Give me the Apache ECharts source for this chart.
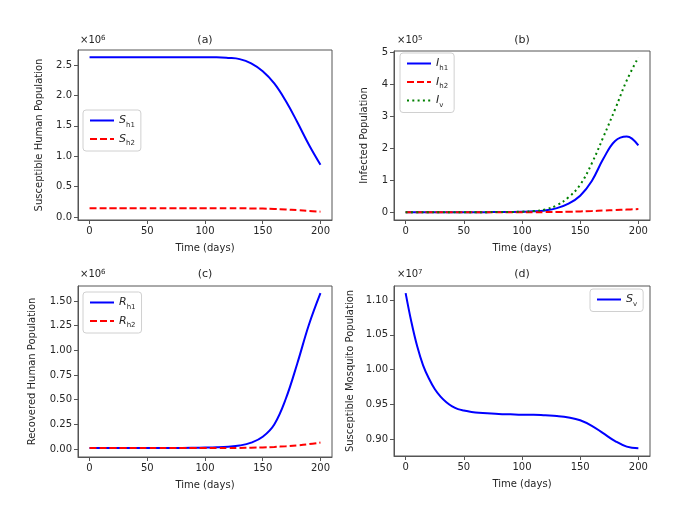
<!doctype html>
<html lang="en">
<head>
<meta charset="UTF-8">
<title>Population dynamics</title>
<script src="https://cdn.jsdelivr.net/npm/echarts@6/dist/echarts.min.js"></script>
<style>
    html, body { margin: 0; padding: 0; background: #fff; }
    #main { width: 675px; height: 510px; }
</style>
</head>
<body>
<div id="main"></div>
<script type="text/javascript">
    // time axis (days)
    var days = [0, 10, 20, 30, 40, 50, 60, 70, 80, 90, 100, 110, 120, 130, 140, 150, 160, 170, 180, 190, 200];
    var daysSv = [0, 5, 10, 15, 20, 25, 30, 35, 40, 45, 50, 60, 70, 80, 90, 100, 110, 120, 130, 140, 150, 160, 170, 180, 190, 200];

    // (a) susceptible humans, x10^6
    var sh1 = [2.63, 2.63, 2.63, 2.63, 2.63, 2.63, 2.63, 2.63, 2.63, 2.63, 2.63, 2.63, 2.62, 2.60, 2.53, 2.40, 2.20, 1.91, 1.56, 1.19, 0.86];
    var sh2 = [0.145, 0.145, 0.145, 0.145, 0.145, 0.145, 0.145, 0.145, 0.145, 0.145, 0.145, 0.145, 0.144, 0.143, 0.141, 0.138, 0.132, 0.124, 0.112, 0.100, 0.087];

    // (b) infected, x10^5
    var ih1 = [0, 0, 0, 0, 0, 0, 0, 0.005, 0.008, 0.012, 0.018, 0.03, 0.06, 0.13, 0.27, 0.52, 0.98, 1.68, 2.23, 2.37, 2.09];
    var ih2 = [0, 0, 0, 0, 0, 0, 0, 0, 0, 0, 0, 0.003, 0.006, 0.01, 0.018, 0.028, 0.04, 0.055, 0.07, 0.085, 0.10];
    var iv  = [0, 0, 0, 0, 0, 0, 0, 0.005, 0.008, 0.012, 0.02, 0.04, 0.09, 0.22, 0.47, 0.86, 1.53, 2.36, 3.22, 4.12, 4.84];

    // (c) recovered humans, x10^6
    var rh1 = [0.01, 0.01, 0.01, 0.01, 0.01, 0.011, 0.011, 0.012, 0.012, 0.013, 0.015, 0.018, 0.024, 0.036, 0.065, 0.125, 0.25, 0.51, 0.87, 1.26, 1.58];
    var rh2 = [0.01, 0.01, 0.01, 0.01, 0.01, 0.01, 0.01, 0.01, 0.01, 0.01, 0.01, 0.01, 0.011, 0.012, 0.014, 0.017, 0.022, 0.029, 0.038, 0.05, 0.066];

    // (d) susceptible mosquitoes, x10^7
    var sv = [1.110, 1.068, 1.033, 1.006, 0.987, 0.972, 0.961, 0.953, 0.947, 0.943, 0.941, 0.938, 0.937, 0.936, 0.9355, 0.935, 0.935, 0.934, 0.933, 0.931, 0.927, 0.919, 0.908, 0.897, 0.889, 0.8865];

    var xTicks = [0, 50, 100, 150, 200];
    var yTicksA = [0, 0.5, 1.0, 1.5, 2.0, 2.5];
    var yTicksB = [0, 1, 2, 3, 4, 5];
    var yTicksC = [0, 0.25, 0.5, 0.75, 1.0, 1.25, 1.5];
    var yTicksD = [0.90, 0.95, 1.00, 1.05, 1.10];

    var legendNames = {
        Sh1: '{it|S}{sub|h1}', Sh2: '{it|S}{sub|h2}',
        Ih1: '{it|I}{sub|h1}', Ih2: '{it|I}{sub|h2}', Iv: '{it|I}{sub|v}',
        Rh1: '{it|R}{sub|h1}', Rh2: '{it|R}{sub|h2}',
        Sv: '{it|S}{sub|v}'
    };

    var FONT = 'DejaVu Sans';
    var TXT = '#262626';
    var FRAME = '#555';

    function pairs(xs, ys) {
        var out = [];
        for (var i = 0; i < xs.length; i++) {
            out.push([xs[i], ys[i]]);
        }
        return out;
    }

    function xAxisFor(idx) {
        return {
            type: 'value', gridIndex: idx, min: -10, max: 210,
            name: 'Time (days)', nameLocation: 'middle', nameGap: 23,
            nameTextStyle: { fontFamily: FONT, fontSize: 10, color: TXT },
            splitLine: { show: false },
            axisLine: { onZero: false, lineStyle: { color: FRAME } },
            axisTick: { inside: false, length: 4, customValues: xTicks, lineStyle: { color: FRAME } },
            axisLabel: { customValues: xTicks, margin: 6, fontFamily: FONT, fontSize: 10, color: TXT }
        };
    }

    function yAxisFor(idx, min, max, ticks, digits, name, gap) {
        return {
            type: 'value', gridIndex: idx, min: min, max: max,
            name: name, nameLocation: 'middle', nameGap: gap,
            nameTextStyle: { fontFamily: FONT, fontSize: 10, color: TXT },
            splitLine: { show: false },
            axisLine: { show: true, onZero: false, lineStyle: { color: FRAME } },
            axisTick: { show: true, inside: false, length: 4, customValues: ticks, lineStyle: { color: FRAME } },
            axisLabel: {
                customValues: ticks, margin: 6, fontFamily: FONT, fontSize: 10, color: TXT,
                formatter: function (v) { return v.toFixed(digits); }
            }
        };
    }

    function lineSeries(name, idx, data, color, dash) {
        return {
            name: name, type: 'line', xAxisIndex: idx, yAxisIndex: idx,
            data: data, smooth: 0.4, symbol: 'none', animation: false,
            lineStyle: { color: color, width: 2, type: dash || 'solid' },
            itemStyle: { color: color }
        };
    }

    function legendFor(names, pos) {
        var l = {
            orient: 'vertical', data: names, itemWidth: 24, itemHeight: 10, itemGap: 5,
            padding: [5, 6, 4, 6], borderColor: '#d0d0d0', borderWidth: 1, borderRadius: 3,
            backgroundColor: 'rgba(255,255,255,0.8)',
            itemStyle: { opacity: 0 },
            formatter: function (n) { return legendNames[n]; },
            textStyle: {
                fontFamily: FONT, fontSize: 11, color: TXT,
                rich: {
                    it: { fontFamily: FONT, fontStyle: 'italic', fontSize: 11, color: TXT, lineHeight: 16 },
                    sub: { fontFamily: FONT, fontSize: 7, color: TXT, verticalAlign: 'bottom', lineHeight: 10 }
                }
            }
        };
        for (var k in pos) l[k] = pos[k];
        return l;
    }

    function expTitle(exp, left, top) {
        return {
            text: '×10{sup|' + exp + '}', left: left, top: top, padding: 0,
            textStyle: {
                fontFamily: FONT, fontSize: 10, fontWeight: 'normal', color: TXT,
                rich: { sup: { fontFamily: FONT, fontSize: 7, color: TXT, verticalAlign: 'top', lineHeight: 8 } }
            }
        };
    }

    function panelTitle(text, cx, top) {
        return {
            text: text, left: cx, top: top, textAlign: 'center', padding: 0,
            textStyle: { fontFamily: FONT, fontSize: 11, fontWeight: 'normal', color: TXT }
        };
    }

    var chart = echarts.init(document.getElementById('main'), null, { renderer: 'canvas' });

    var gridStyle = { show: true, borderColor: FRAME, borderWidth: 1, backgroundColor: '#fff' };
    var grids = [
        Object.assign({ left: 78, top: 50, width: 254, height: 170 }, gridStyle),
        Object.assign({ left: 394, top: 51, width: 256, height: 169 }, gridStyle),
        Object.assign({ left: 78, top: 286, width: 254, height: 171 }, gridStyle),
        Object.assign({ left: 394, top: 286, width: 256, height: 170 }, gridStyle)
    ];

    var option = {
        backgroundColor: '#fff',
        animation: false,
        title: [
            panelTitle('(a)', 205, 35), expTitle(6, 80, 35),
            panelTitle('(b)', 522, 35), expTitle(5, 397, 35),
            panelTitle('(c)', 205, 269), expTitle(6, 80, 269),
            panelTitle('(d)', 522, 269), expTitle(7, 397, 269)
        ],
        grid: grids,
        xAxis: [xAxisFor(0), xAxisFor(1), xAxisFor(2), xAxisFor(3)],
        yAxis: [
            yAxisFor(0, -0.05, 2.75, yTicksA, 1, 'Susceptible Human Population', 34),
            yAxisFor(1, -0.24, 5.04, yTicksB, 0, 'Infected Population', 25),
            yAxisFor(2, -0.08, 1.652, yTicksC, 2, 'Recovered Human Population', 41),
            yAxisFor(3, 0.8755, 1.1202, yTicksD, 2, 'Susceptible Mosquito Population', 39)
        ],
        legend: [
            legendFor(['Sh1', 'Sh2'], { left: 83, top: 110 }),
            legendFor(['Ih1', 'Ih2', 'Iv'], { left: 400, top: 53 }),
            legendFor(['Rh1', 'Rh2'], { left: 83, top: 292 }),
            legendFor(['Sv'], { left: 590, top: 289 })
        ],
        series: [
            lineSeries('Sh1', 0, pairs(days, sh1), '#0000ff'),
            lineSeries('Sh2', 0, pairs(days, sh2), '#ff0000', [7, 3]),
            lineSeries('Ih1', 1, pairs(days, ih1), '#0000ff'),
            lineSeries('Ih2', 1, pairs(days, ih2), '#ff0000', [7, 3]),
            lineSeries('Iv', 1, pairs(days, iv), '#008000', [2, 3.3]),
            lineSeries('Rh1', 2, pairs(days, rh1), '#0000ff'),
            lineSeries('Rh2', 2, pairs(days, rh2), '#ff0000', [7, 3]),
            lineSeries('Sv', 3, pairs(daysSv, sv), '#0000ff')
        ]
    };

    chart.setOption(option);
</script>
</body>
</html>
